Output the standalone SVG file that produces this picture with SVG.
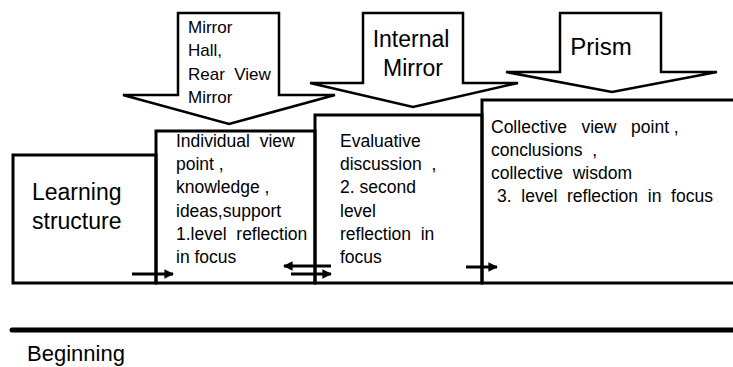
<svg xmlns="http://www.w3.org/2000/svg" width="733" height="367" viewBox="0 0 733 367">
<style>
  .blk { fill: #fff; stroke: #000; stroke-width: 2.5; stroke-linejoin: miter; }
  .box { fill: none; stroke: #000; stroke-width: 3; }
  .t { font-family: "Liberation Sans", Arial, sans-serif; fill: #000; }
  .s { font-size: 17px; }
  .m { font-size: 17.5px; }
  .l { font-size: 23px; }
  .con { stroke: #000; stroke-width: 3; fill: none; marker-end: url(#ah); }
</style>
<defs>
  <marker id="ah" viewBox="0 0 10 10" refX="9" refY="5" markerWidth="3.2" markerHeight="3.2" orient="auto" markerUnits="strokeWidth">
    <path d="M0,0 L10,5 L0,10 z" fill="#000"/>
  </marker>
</defs>
<rect width="733" height="367" fill="#fff"/>

<g id="arrow-mirror-hall">
  <polygon class="blk" points="178,13 279,13 279,95 335,95 229,124 123,95 178,95"/>
  <text class="t s" x="188" y="33">Mirror</text>
  <text class="t s" x="188" y="56">Hall,</text>
  <text class="t s" x="188" y="80" xml:space="preserve">Rear  View</text>
  <text class="t s" x="188" y="103">Mirror</text>
</g>
<g id="arrow-internal-mirror">
  <polygon class="blk" points="363,13 463,13 463,83 518,83 413,107 310,83 363,83"/>
  <text class="t l" x="411" y="47" text-anchor="middle">Internal</text>
  <text class="t l" x="413" y="76" text-anchor="middle">Mirror</text>
</g>
<g id="arrow-prism">
  <polygon class="blk" points="560,13 661,13 661,72 717,72 612,92 506,72 560,72"/>
  <text class="t" x="601" y="55" text-anchor="middle" font-size="24">Prism</text>
</g>

<g id="learning-structure">
  <rect class="box" x="13" y="155" width="143" height="128"/>
  <text class="t l" x="32" y="200">Learning</text>
  <text class="t l" x="32" y="229">structure</text>
</g>
<g id="individual">
  <rect class="box" x="156" y="131" width="159" height="152"/>
  <text class="t m" x="176" y="147" xml:space="preserve">Individual  view</text>
  <text class="t m" x="176" y="170">point ,</text>
  <text class="t m" x="176" y="193">knowledge ,</text>
  <text class="t m" x="176" y="217">ideas,support</text>
  <text class="t m" x="176" y="240" xml:space="preserve">1.level  reflection</text>
  <text class="t m" x="176" y="263">in focus</text>
</g>
<g id="evaluative">
  <rect class="box" x="315" y="115" width="167" height="168"/>
  <text class="t m" x="340" y="147">Evaluative</text>
  <text class="t m" x="340" y="170" xml:space="preserve">discussion  ,</text>
  <text class="t m" x="340" y="193">2. second</text>
  <text class="t m" x="340" y="217">level</text>
  <text class="t m" x="340" y="240" xml:space="preserve">reflection  in</text>
  <text class="t m" x="340" y="263">focus</text>
</g>
<g id="collective">
  <rect class="box" x="482" y="100" width="260" height="183"/>
  <text class="t m" x="491" y="133" xml:space="preserve">Collective   view   point ,</text>
  <text class="t m" x="491" y="156" xml:space="preserve">conclusions  ,</text>
  <text class="t m" x="491" y="179" xml:space="preserve">collective  wisdom</text>
  <text class="t m" x="497" y="202" xml:space="preserve">3.  level  reflection  in  focus</text>
</g>

<g id="connectors">
  <line class="con" x1="132" y1="274" x2="173" y2="274"/>
  <line class="con" x1="331" y1="266" x2="284" y2="266"/>
  <line class="con" x1="291" y1="274" x2="331" y2="274"/>
  <line class="con" x1="466" y1="267" x2="497" y2="267"/>
</g>

<g id="timeline">
  <line x1="12" y1="330" x2="740" y2="330" stroke="#000" stroke-width="5" stroke-linecap="round"/>
  <text class="t" x="27" y="361" font-size="22">Beginning</text>
</g>
</svg>
